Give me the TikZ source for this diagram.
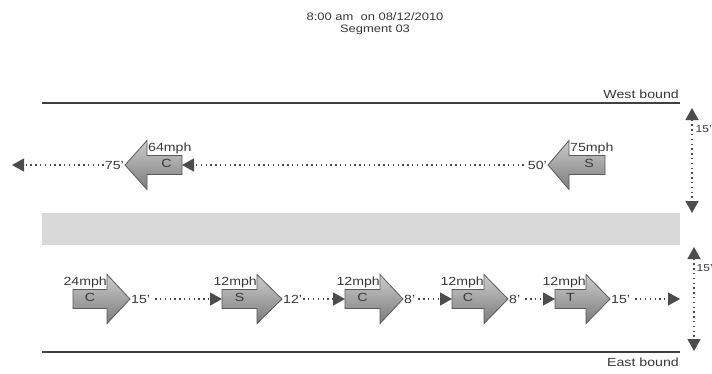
\documentclass[tikz,border=0pt]{standalone}
\usepackage{fontspec}
\setmainfont{Liberation Sans}[FakeStretch=1.2]
\usetikzlibrary{arrows.meta}
\definecolor{ink}{HTML}{383838}
\definecolor{band}{HTML}{D9D9D9}
\tikzset{
  car/.style={draw=black!65, line width=0.8pt, top color=black!20, bottom color=black!52},
  lbl/.style={font=\fontsize{11.8}{13}\selectfont, text=ink, inner sep=1pt},
  side/.style={font=\fontsize{10}{12}\selectfont, text=ink, inner sep=0.5pt},
  ttl/.style={font=\fontsize{10.8}{12}\selectfont, text=ink, inner sep=0pt},
  dotline/.style={draw=black!70, line width=1.3pt, dash pattern=on 1.3pt off 3.5pt},
  tip/.style={-{Triangle[length=12pt,width=13pt]}},
  tips/.style={{Triangle[length=12pt,width=13pt]}-{Triangle[length=12pt,width=13pt]}},
  road/.style={draw=black!75, line width=1.2pt}
}
% east-going vehicle: name, body left, head base, tip, y, letter, speed
\newcommand\eastcar[7]{%
  \draw[car] (#2,#5-9.5) -- (#3,#5-9.5) -- (#3,#5-24.5) -- (#4,#5) -- (#3,#5+24.5) -- (#3,#5+9.5) -- (#2,#5+9.5) -- cycle;
  \coordinate (#1tail) at (#2,#5);
  \coordinate (#1tip) at (#4,#5);
  \node[lbl] (#1letter) at ({(#2+#3)/2},#5-2) {#6};
  \node[lbl, anchor=south east] (#1speed) at (#3+1,#5-10) {#7};
}
% west-going vehicle: name, body right, head base, tip, y, letter, speed
\newcommand\westcar[7]{%
  \draw[car] (#2,#5-9.5) -- (#3,#5-9.5) -- (#3,#5-24.5) -- (#4,#5) -- (#3,#5+24.5) -- (#3,#5+9.5) -- (#2,#5+9.5) -- cycle;
  \coordinate (#1tail) at (#2,#5);
  \coordinate (#1tip) at (#4,#5);
  \node[lbl] (#1letter) at ({(#2+#3)/2+2},#5-2) {#6};
  \node[lbl, anchor=south west] (#1speed) at (#3,#5-10) {#7};
}
\begin{document}
\begin{tikzpicture}[x=1pt,y=-1pt]
\useasboundingbox (0,0) rectangle (712,373);
\fill[white] (0,0) rectangle (712,373);
% title
\node[ttl] (t1) at (375,17) {8:00 am\ \ on 08/12/2010};
\node[ttl] (t2) at (375,30) {Segment 03};
% roads
\draw[road] (42,103) -- (680,103);
\node[lbl, anchor=south east] (wblabel) at (680,100) {West bound};
\fill[band] (42,213) rectangle (680,245);
\draw[road] (42,352) -- (680,352);
\node[lbl, anchor=north east] (eblabel) at (680,357) {East bound};
% west-bound vehicles
\westcar{wa}{182}{147}{125}{165}{C}{64mph}
\westcar{wb}{605}{569}{548}{165}{S}{75mph}
\node[lbl, anchor=east] (d75) at (watip) {75'};
\node[lbl, anchor=east] (d50) at (wbtip) {50'};
\coordinate (wend) at (12,165);
\draw[dotline, tip] (d50.west) ++(-3,0) -- (watail);
\draw[dotline, tip] (d75.west) -- (wend);
% east-bound vehicles
\eastcar{ea}{73}{107}{130}{299}{C}{24mph}
\eastcar{eb}{222}{257}{282}{299}{S}{12mph}
\eastcar{ec}{345}{380}{403}{299}{C}{12mph}
\eastcar{ed}{452}{484}{508}{299}{C}{12mph}
\eastcar{ee}{555}{586}{610}{299}{T}{12mph}
\node[lbl, anchor=west] (da) at (eatip) {15'};
\node[lbl, anchor=west] (db) at (ebtip) {12'};
\node[lbl, anchor=west] (dc) at (ectip) {8'};
\node[lbl, anchor=west] (dd) at (edtip) {8'};
\node[lbl, anchor=west] (de) at (eetip) {15'};
\coordinate (eend) at (680,299);
\draw[dotline, tip] (da.east) ++(4,0) -- (ebtail);
\draw[dotline, tip] (db.east) -- (ectail);
\draw[dotline, tip] (dc.east) ++(2,0) -- (edtail);
\draw[dotline, tip] (dd.east) ++(4,0) -- (eetail);
\draw[dotline, tip] (de.east) ++(4,0) -- (eend);
% lane widths
\coordinate (v1t) at (692,108);
\coordinate (v1b) at (692,213);
\coordinate (v2t) at (694,247);
\coordinate (v2b) at (694,351);
\draw[dotline, tips] (v1t) -- (v1b);
\draw[dotline, tips] (v2t) -- (v2b);
\node[side, anchor=west] (h1) at (695,129) {15'};
\node[side, anchor=west] (h2) at (696,268) {15'};
\end{tikzpicture}
\end{document}
